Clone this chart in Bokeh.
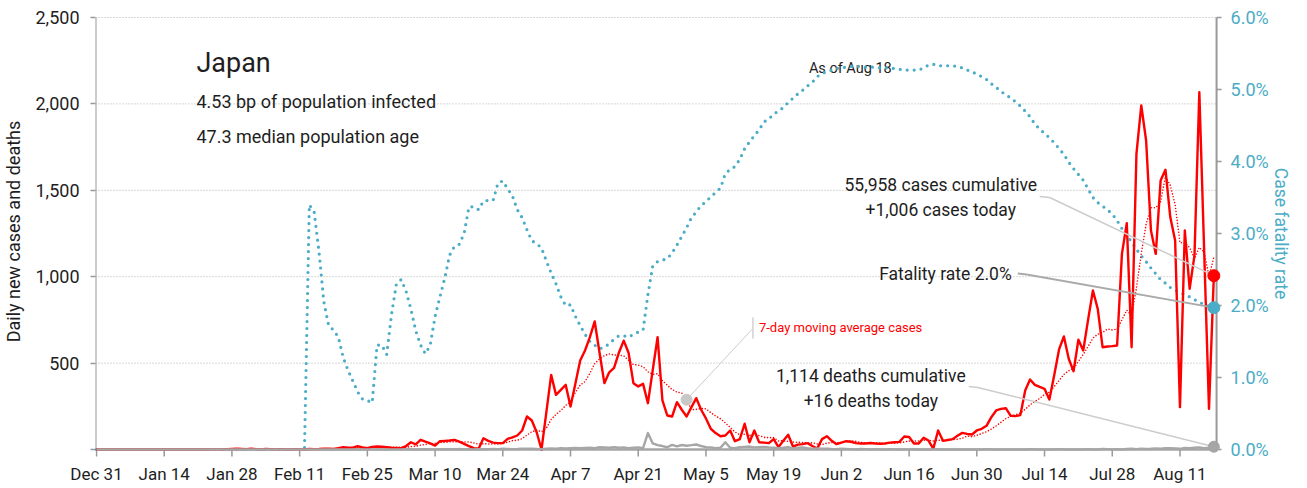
import math
import numpy as np
import pandas as pd
from bokeh.plotting import figure
from bokeh.models import Range1d, FixedTicker, NumeralTickFormatter, Label
from bokeh.embed import file_html
from bokeh.resources import INLINE

FONT = "Roboto"
RED = "#ff0000"
TEAL = "#4bacc6"
GRAY = "#a6a6a6"
AXIS = "#999999"
LEAD = "#cccccc"
TXT = "#1e1e1e"

# ---- data (day 0 = Dec 31, 2019; last day = Aug 18, 2020) ----
tick_days = [0, 14, 28, 42, 56, 70, 84, 98, 112, 126, 140, 154, 168, 182, 196, 210, 224]
tick_labels = ["Dec 31", "Jan 14", "Jan 28", "Feb 11", "Feb 25", "Mar 10", "Mar 24", "Apr 7",
               "Apr 21", "May 5", "May 19", "Jun 2", "Jun 16", "Jun 30", "Jul 14", "Jul 28", "Aug 11"]
left_ticks = [0, 500, 1000, 1500, 2000, 2500]
cfr_ticks = [0, 1, 2, 3, 4, 5, 6]

cases = [
    0, 0, 0, 0, 0, 0, 0, 0, 0, 0,
    0, 0, 0, 0, 0, 0, 1, 0, 0, 0,
    0, 0, 0, 0, 1, 1, 0, 2, 3, 4,
    3, 2, 5, 2, 1, 3, 2, 1, 2, 1,
    0, 2, 1, 0, 3, 2, 3, 5, 4, 3,
    8, 13, 10, 11, 19, 12, 8, 15, 17, 16,
    13, 10, 9, 8, 20, 42, 30, 56, 45, 35,
    23, 48, 50, 52, 56, 45, 33, 20, 8, 4,
    65, 50, 40, 37, 37, 62, 70, 81, 110, 191,
    168, 100, 0, 215, 432, 316, 345, 374, 249, 380,
    515, 573, 650, 741, 560, 384, 447, 473, 560, 630,
    560, 384, 365, 380, 268, 460, 650, 284, 197, 191,
    274, 230, 191, 245, 297, 230, 180, 120, 95, 77,
    81, 110, 48, 60, 149, 42, 110, 42, 40, 37,
    60, 14, 50, 85, 17, 28, 31, 37, 20, 5,
    60, 77, 50, 31, 40, 48, 45, 37, 35, 35,
    38, 35, 33, 35, 40, 42, 44, 75, 72, 35,
    35, 68, 52, 5, 110, 50, 55, 60, 80, 96,
    90, 87, 110, 120, 137, 187, 226, 235, 239, 195,
    193, 199, 341, 405, 374, 362, 351, 289, 430, 579,
    654, 525, 453, 635, 573, 750, 920, 814, 592, 596,
    598, 602, 1132, 1310, 592, 1711, 1991, 1788, 1267, 1132,
    1557, 1619, 1344, 1209, 245, 1267, 930, 1123, 2068, 1150,
    235, 1006,
]

deaths = [
    0, 0, 0, 0, 0, 0, 0, 0, 0, 0,
    0, 0, 0, 0, 0, 0, 0, 0, 0, 0,
    0, 0, 0, 0, 0, 0, 0, 0, 0, 0,
    0, 0, 0, 0, 0, 0, 0, 0, 0, 0,
    0, 0, 0, 0, 1, 0, 0, 0, 0, 0,
    0, 0, 0, 0, 1, 0, 0, 1, 1, 1,
    0, 1, 1, 0, 2, 1, 0, 1, 2, 1,
    1, 2, 1, 2, 1, 3, 1, 2, 0, 2,
    1, 2, 3, 2, 4, 3, 2, 3, 5, 4,
    5, 3, 2, 4, 6, 5, 7, 6, 8, 9,
    7, 9, 10, 8, 13, 12, 10, 14, 10, 12,
    8, 10, 12, 8, 95, 35, 25, 20, 13, 27,
    18, 26, 22, 25, 29, 20, 14, 12, 8, 10,
    42, 10, 8, 13, 15, 17, 12, 14, 15, 12,
    10, 8, 10, 14, 6, 10, 12, 8, 5, 6,
    4, 5, 3, 2, 4, 3, 2, 1, 3, 2,
    1, 2, 1, 0, 2, 1, 1, 0, 1, 2,
    0, 1, 0, 1, 2, 0, 1, 0, 1, 0,
    1, 0, 1, 0, 2, 1, 0, 1, 0, 1,
    0, 1, 0, 2, 1, 0, 1, 0, 1, 2,
    1, 0, 1, 0, 1, 2, 1, 0, 3, 2,
    1, 2, 0, 3, 4, 2, 5, 3, 4, 6,
    5, 7, 8, 6, 4, 9, 7, 10, 12, 8,
    11, 16,
]

# case fatality rate, percent
cfr = [
    0, 0, 0, 0, 0, 0, 0, 0, 0, 0,
    0, 0, 0, 0, 0, 0, 0, 0, 0, 0,
    0, 0, 0, 0, 0, 0, 0, 0, 0, 0,
    0, 0, 0, 0, 0, 0, 0, 0, 0, 0,
    0, 0, 0, 0, 3.40, 3.30, 2.75, 2.05, 1.72, 1.66,
    1.56, 1.28, 1.10, 0.95, 0.80, 0.70, 0.68, 0.65, 1.45, 1.45,
    1.32, 1.88, 2.30, 2.36, 2.20, 1.95, 1.65, 1.45, 1.33, 1.45,
    1.85, 2.12, 2.38, 2.70, 2.82, 2.85, 3.00, 3.37, 3.37, 3.33,
    3.45, 3.46, 3.46, 3.70, 3.73, 3.62, 3.52, 3.33, 3.22, 3.05,
    2.90, 2.86, 2.80, 2.62, 2.45, 2.30, 2.12, 2.00, 2.01, 1.85,
    1.72, 1.60, 1.50, 1.45, 1.40, 1.42, 1.47, 1.53, 1.58, 1.58,
    1.56, 1.60, 1.63, 1.66, 2.15, 2.55, 2.61, 2.63, 2.65, 2.73,
    2.84, 2.96, 3.08, 3.22, 3.30, 3.39, 3.44, 3.51, 3.57, 3.63,
    3.83, 3.89, 3.93, 4.03, 4.18, 4.27, 4.36, 4.44, 4.55, 4.59,
    4.66, 4.70, 4.75, 4.82, 4.88, 4.94, 4.99, 5.05, 5.10, 5.18,
    5.22, 5.25, 5.27, 5.29, 5.30, 5.31, 5.32, 5.32, 5.32, 5.31,
    5.31, 5.31, 5.30, 5.30, 5.30, 5.29, 5.28, 5.27, 5.27, 5.27,
    5.27, 5.30, 5.34, 5.35, 5.33, 5.33, 5.33, 5.33, 5.32, 5.30,
    5.27, 5.25, 5.21, 5.18, 5.14, 5.08, 5.03, 4.97, 4.93, 4.88,
    4.83, 4.77, 4.70, 4.62, 4.52, 4.45, 4.39, 4.33, 4.26, 4.18,
    4.10, 3.99, 3.90, 3.82, 3.74, 3.62, 3.50, 3.43, 3.38, 3.33,
    3.27, 3.18, 3.07, 2.98, 2.88, 2.78, 2.69, 2.61, 2.52, 2.44,
    2.36, 2.31, 2.25, 2.21, 2.18, 2.15, 2.12, 2.08, 2.05, 2.01,
    1.99, 1.97,
]

days = np.arange(len(cases))
ma7 = pd.Series(cases, dtype=float).rolling(7, min_periods=1).mean().to_numpy()

# ---- layout helpers (canvas pixel -> data coordinates, for placing furniture/annotations) ----
X0_PX, PX_PER_DAY = 95.0, 4.841
Y0_PX, PX_PER_UNIT = 449.0, 432.0 / 2500.0
CFR_TO_LEFT = 2500.0 / 6.0
W, H = 1291, 488
FRAME_L, FRAME_T, FRAME_B = 94, 4, 458
AXIS_L, AXIS_R, AXIS_T = 94, 1216, 17


def xd(px):
    return (px - X0_PX) / PX_PER_DAY


def yd(py):
    return (Y0_PX - py) / PX_PER_UNIT


p = figure(width=W, height=H,
           x_range=Range1d(xd(FRAME_L), xd(W)), y_range=Range1d(yd(FRAME_B), yd(FRAME_T)),
           output_backend="svg", toolbar_location=None,
           min_border_left=FRAME_L, min_border_right=0, min_border_top=FRAME_T,
           min_border_bottom=H - FRAME_B,
           background_fill_color="white", border_fill_color="white")
p.outline_line_color = None
p.xgrid.visible = False
p.ygrid.visible = False

# x axis: Bokeh draws the labels; line and tick marks drawn at y = 0 below
xa = p.xaxis[0]
xa.ticker = FixedTicker(ticks=tick_days)
xa.major_label_overrides = {d: lab for d, lab in zip(tick_days, tick_labels)}
xa.axis_line_color = None
xa.major_tick_line_color = None
xa.major_tick_out = 0
xa.major_tick_in = 0
xa.minor_tick_line_color = None
xa.major_label_standoff = 5
xa.major_label_text_font = FONT
xa.major_label_text_font_size = "17px"
xa.major_label_text_color = TXT

# left axis: Bokeh draws ticks, labels and title; the line is drawn below
ya = p.yaxis[0]
ya.ticker = FixedTicker(ticks=left_ticks)
ya.formatter = NumeralTickFormatter(format="0,0")
ya.major_label_overrides = {0: ""}
ya.axis_line_color = None
ya.major_tick_line_color = AXIS
ya.major_tick_line_width = 1.5
ya.major_tick_out = 5
ya.major_tick_in = 0
ya.minor_tick_line_color = None
ya.major_label_standoff = 11
ya.major_label_text_font = FONT
ya.major_label_text_font_size = "18px"
ya.major_label_text_color = TXT
ya.axis_label = "Daily new cases and deaths"
ya.axis_label_text_font = FONT
ya.axis_label_text_font_size = "18px"
ya.axis_label_text_font_style = "normal"
ya.axis_label_text_color = TXT
ya.axis_label_standoff = 8

# dotted horizontal grid, between the two axes
grid_vals = left_ticks[1:]
p.segment(x0=[xd(AXIS_L)] * len(grid_vals), x1=[xd(AXIS_R)] * len(grid_vals),
          y0=grid_vals, y1=grid_vals, line_color="#b0b0b0", line_width=1,
          line_dash="1 2", level="underlay")
# x axis line and tick marks
p.segment(x0=[xd(AXIS_L)], x1=[xd(AXIS_R + 1)], y0=[0], y1=[0],
          line_color=GRAY, line_width=2.5, level="underlay")
p.segment(x0=tick_days, x1=tick_days, y0=[0] * len(tick_days), y1=[yd(456)] * len(tick_days),
          line_color=AXIS, line_width=1.5, level="underlay")
# left axis line
p.segment(x0=[xd(AXIS_L)], x1=[xd(AXIS_L)], y0=[yd(450)], y1=[yd(AXIS_T)],
          line_color=AXIS, line_width=2, level="underlay")
# right axis line and ticks (case fatality rate scale)
p.segment(x0=[xd(AXIS_R)], x1=[xd(AXIS_R)], y0=[yd(450)], y1=[yd(AXIS_T)],
          line_color=AXIS, line_width=2, level="underlay")
cfr_tick_y = [t * CFR_TO_LEFT for t in cfr_ticks]
p.segment(x0=[xd(AXIS_R)] * len(cfr_ticks), x1=[xd(AXIS_R + 5)] * len(cfr_ticks),
          y0=cfr_tick_y, y1=cfr_tick_y, line_color=AXIS, line_width=1.5, level="underlay")

# ---- series ----
p.line(days, [v * CFR_TO_LEFT for v in cfr], line_color=TEAL, line_width=3.2,
       line_dash="0 7", line_cap="round", level="overlay")
p.line(days, ma7, line_color=RED, line_width=1.6, line_dash="0 3", line_cap="round",
       level="overlay")
p.line(days, cases, line_color=RED, line_width=2.4, line_join="round", level="overlay")
p.line(days, deaths, line_color=GRAY, line_width=2.4, line_join="round", level="overlay")

last = days[-1]

# ---- leader lines ----
p.line([xd(1039), xd(1049), last], [yd(196), yd(197), cases[-1]],
       line_color=LEAD, line_width=1.5, level="overlay")
p.line([xd(1017), xd(1026), last], [yd(273), yd(274), cfr[-1] * CFR_TO_LEFT],
       line_color="#aaaaaa", line_width=1.8, level="overlay")
p.line([xd(968), xd(977), last], [yd(386), yd(387), deaths[-1]],
       line_color=LEAD, line_width=1.5, level="overlay")
ma_day = 122
p.line([ma_day, xd(751)], [ma7[ma_day], yd(329)], line_color=LEAD, line_width=1, level="overlay")
p.line([xd(752), xd(752)], [yd(317), yd(338)], line_color="#bbbbbb", line_width=1, level="overlay")

# ---- anchor dots ----
p.scatter([ma_day], [ma7[ma_day]], size=11, color="#c8c8c8", level="overlay")
p.scatter([last], [cases[-1]], size=12, color=RED, level="overlay")
p.scatter([last], [cfr[-1] * CFR_TO_LEFT], size=12, color=TEAL, level="overlay")
p.scatter([last], [deaths[-1]], size=11, color=GRAY, level="overlay")


def lab(px, y, text, size, align="left", color=TXT, angle=0.0):
    p.add_layout(Label(x=xd(px), y=y, text=text, text_font=FONT,
                       text_font_size=size, text_align=align, text_baseline="middle",
                       text_color=color, angle=angle))


lab(195, yd(62), "Japan", "27px")
lab(195, yd(101), "4.53 bp of population infected", "18px")
lab(195, yd(136), "47.3 median population age", "18px")
lab(808, yd(68), "As of Aug 18", "14.5px")
lab(940, yd(184), "55,958 cases cumulative", "17.5px", "center")
lab(940, yd(209), "+1,006 cases today", "17.5px", "center")
lab(1011, yd(273), "Fatality rate 2.0%", "17.5px", "right")
lab(870, yd(375), "1,114 deaths cumulative", "17.5px", "center")
lab(870, yd(400), "+16 deaths today", "17.5px", "center")
lab(758, yd(327), "7-day moving average cases", "13px", "left", RED)

# right-hand axis tick labels and title
for t, ty in zip(cfr_ticks, cfr_tick_y):
    lab(1230, ty, "%.1f%%" % t, "18px", "left", TEAL)
lab(1280, yd(233), "Case fatality rate", "17.5px", "center", TEAL, -math.pi / 2)

open("out.html", "w").write(file_html(p, INLINE))
